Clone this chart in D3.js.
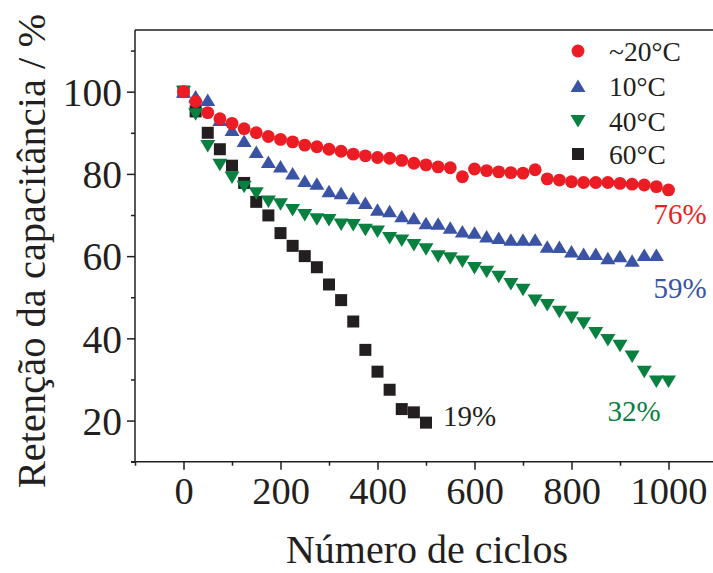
<!DOCTYPE html>
<html>
<head>
<meta charset="utf-8">
<script src="https://cdn.jsdelivr.net/npm/d3@7"></script>
<style>
  body { margin: 0; background: #fff; }
  text { font-family: "Liberation Serif", "Times New Roman", serif; fill: #231f20; }
  .axis path, .axis line { stroke: #231f20; stroke-width: 1.5; }
</style>
</head>
<body>
<div id="chart"></div>
<script>
// data
const cycles = d3.range(0, 1001, 25);

const t20 = [100, 97.6, 94.9, 93.4, 92.3, 91.0, 90.0, 89.1, 88.4, 87.8, 87.0, 86.6, 86.0, 85.5, 84.8, 84.4,
  84.0, 83.8, 83.3, 82.6, 82.2, 81.7, 81.5, 79.3, 81.2, 80.8, 80.5, 80.3, 80.2, 81.0, 78.8, 78.5,
  78.1, 77.9, 77.9, 77.9, 77.7, 77.5, 77.3, 76.9, 76.1];

const t10 = [100, 98.8, 98.0, 93.1, 90.7, 88.0, 85.3, 82.9, 81.8, 80.1, 78.3, 77.6, 75.8, 75.3, 74.1, 72.9,
  71.3, 70.9, 69.7, 69.2, 68.0, 67.9, 66.9, 66.0, 65.7, 64.8, 64.4, 64.0, 64.0, 64.0, 62.3, 62.2,
  61.1, 60.5, 60.5, 59.5, 60.0, 58.9, 60.3, 60.3];

const t40 = [100, 94.5, 86.8, 82.2, 79.1, 76.9, 75.3, 73.3, 72.6, 71.2, 70.0, 69.0, 68.8, 67.7, 67.6, 66.4,
  66.0, 64.4, 63.8, 62.7, 61.7, 60.0, 59.5, 58.7, 57.1, 56.2, 55.0, 53.2, 51.8, 49.2, 48.1, 46.5,
  45.1, 43.7, 41.3, 39.6, 38.2, 35.6, 31.9, 29.5, 29.5];

const t60 = [100, 95.2, 90.0, 86.0, 82.0, 77.8, 73.2, 69.9, 65.6, 62.5, 60.0, 57.3, 53.1, 49.3, 44.1, 37.2,
  31.9, 27.5, 22.8, 22.0, 19.5];

const seriesNames = ["~20°C", "10°C", "40°C", "60°C"];
const seriesValues = [t20, t10, t40, t60];
const seriesColors = ["#ec1c24", "#3a53a4", "#08803f", "#231f20"];
const endLabels = ["76%", "59%", "32%", "19%"];

const xTicks = [0, 200, 400, 600, 800, 1000];
const xMinor = [-100, 100, 300, 500, 700, 900, 1100];
const yTicks = [20, 40, 60, 80, 100];
const yMinor = [10, 30, 50, 70, 90, 110];

// layout
const W = 713, H = 573;
const mLeft = 135, mRight = 717, mTop = 30, mBottom = 461.7;

const svg = d3.select("#chart").append("svg")
  .attr("width", W).attr("height", H);

const x = d3.scaleLinear().domain([-100, 1100]).range([mLeft, mRight]);
const y = d3.scaleLinear().domain([10, 115]).range([mBottom, mTop]);

// frame top/right
svg.append("path")
  .attr("d", `M${mLeft},${mTop}H${mRight}V${mBottom}`)
  .attr("fill", "none").attr("stroke", "#231f20").attr("stroke-width", 1.5);

// axes
const xAxis = svg.append("g").attr("class", "axis")
  .attr("transform", `translate(0,${mBottom})`)
  .call(d3.axisBottom(x).tickValues(xTicks).tickSize(8).tickPadding(7).tickFormat(d3.format("d")));
svg.append("g").attr("class", "axis")
  .attr("transform", `translate(0,${mBottom})`)
  .call(d3.axisBottom(x).tickValues(xMinor).tickSize(4).tickFormat(""))
  .select(".domain").remove();
xAxis.selectAll("text").style("font-size", "38.5px");

const yAxis = svg.append("g").attr("class", "axis")
  .attr("transform", `translate(${mLeft},0)`)
  .call(d3.axisLeft(y).tickValues(yTicks).tickSize(8).tickPadding(5));
svg.append("g").attr("class", "axis")
  .attr("transform", `translate(${mLeft},0)`)
  .call(d3.axisLeft(y).tickValues(yMinor).tickSize(4).tickFormat(""))
  .select(".domain").remove();
yAxis.selectAll("text").style("font-size", "39.5px").attr("dy", "0.35em");

xAxis.select(".domain").attr("d", `M${mLeft - 4},0H${mRight}`);
yAxis.select(".domain").attr("d", `M0,${mBottom}V${mTop}`);

// axis titles
svg.append("text")
  .attr("x", 427).attr("y", 563)
  .attr("text-anchor", "middle")
  .style("font-size", "40px")
  .text("Número de ciclos");

svg.append("text")
  .attr("transform", `translate(45,251) rotate(-90)`)
  .attr("text-anchor", "middle")
  .style("font-size", "40.5px")
  .text("Retenção da capacitância / %");

// marker shapes
const triUp = {
  draw(ctx, s) { ctx.moveTo(0, -6.5); ctx.lineTo(7.5, 6); ctx.lineTo(-7.5, 6); ctx.closePath(); }
};
const triDown = {
  draw(ctx, s) { ctx.moveTo(0, 6.5); ctx.lineTo(7.5, -6); ctx.lineTo(-7.5, -6); ctx.closePath(); }
};
const shapes = [
  d3.symbol(d3.symbolCircle, 130),
  d3.symbol(triUp),
  d3.symbol(triDown),
  d3.symbol(d3.symbolSquare, 144)
];

// draw series, black first so red sits on top like the original
const order = [3, 2, 1, 0];
order.forEach(i => {
  svg.append("g")
    .selectAll("path")
    .data(seriesValues[i].map((v, k) => ({ c: cycles[k], v })))
    .join("path")
    .attr("transform", d => `translate(${x(d.c)},${y(d.v)})`)
    .attr("d", shapes[i]())
    .attr("fill", seriesColors[i]);
});

// end labels
const labelPos = [[680, 224, "middle"], [680, 298, "middle"], [634, 421, "middle"], [443, 426, "start"]];
endLabels.forEach((t, i) => {
  svg.append("text")
    .attr("x", labelPos[i][0]).attr("y", labelPos[i][1])
    .attr("text-anchor", labelPos[i][2])
    .style("font-size", "29px")
    .style("fill", seriesColors[i])
    .text(t);
});

// legend
const legend = svg.append("g");
seriesNames.forEach((name, i) => {
  const ly = [51, 86, 121, 154][i];
  legend.append("path")
    .attr("transform", `translate(578,${ly})`)
    .attr("d", shapes[i]())
    .attr("fill", seriesColors[i]);
  legend.append("text")
    .attr("x", 609).attr("y", ly + 9.5)
    .style("font-size", "27.5px")
    .text(name);
});
</script>
</body>
</html>
